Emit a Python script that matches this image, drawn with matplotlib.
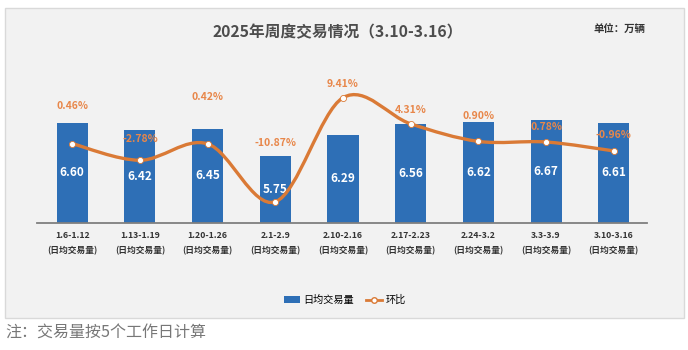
import matplotlib.pyplot as plt
from matplotlib.patches import Rectangle, PathPatch, Patch
from matplotlib.lines import Line2D
from matplotlib.path import Path
import numpy as np

plt.rcParams['font.family'] = ['Noto Sans CJK SC', 'DejaVu Sans']

weeks = ['1.6-1.12', '1.13-1.19', '1.20-1.26', '2.1-2.9', '2.10-2.16',
         '2.17-2.23', '2.24-3.2', '3.3-3.9', '3.10-3.16']
daily_volume = [6.60, 6.42, 6.45, 5.75, 6.29, 6.56, 6.62, 6.67, 6.61]
mom_change = [0.46, -2.78, 0.42, -10.87, 9.41, 4.31, 0.90, 0.78, -0.96]

BAR_COLOR = '#2E6FB6'
LINE_COLOR = '#DA7A36'
LABEL_COLOR = '#E8874A'
# pixel gap between each line point and its label (manually placed in the original)
label_gap = [38, 21, 47, 59, 14, 14, 25, 15, 16]


def smooth_path(xs, ys):
    # Excel-like smoothed line: Catmull-Rom turned into cubic Bezier segments
    pts = np.column_stack([xs, ys])
    n = len(pts)
    verts = [pts[0]]
    codes = [Path.MOVETO]
    for i in range(n - 1):
        p0 = pts[max(i - 1, 0)]
        p1 = pts[i]
        p2 = pts[i + 1]
        p3 = pts[min(i + 2, n - 1)]
        c1 = p1 + (p2 - p0) / 6
        c2 = p2 - (p3 - p1) / 6
        verts += [c1, c2, p2]
        codes += [Path.CURVE4] * 3
    return Path(verts, codes)


fig = plt.figure(figsize=(6.88, 3.5), dpi=100)
fig.patches.append(Rectangle((5 / 688, 1 - 318 / 350), 679 / 688, 310 / 350,
                             transform=fig.transFigure, facecolor='#F2F2F2',
                             edgecolor='#D9D9D9', linewidth=1, zorder=-5))

ax = fig.add_axes([37 / 688, 1 - 223 / 350, 610 / 688, 154 / 350])
ax.set_facecolor('none')
x = np.arange(len(weeks))
bars = ax.bar(x, daily_volume, width=0.46, color=BAR_COLOR, zorder=2)
ax.set_ylim(4, 8)
ax.set_xlim(-0.52, 8.49)
for xi, v in zip(x, daily_volume):
    ax.text(xi, (4 + v) / 2, f'{v:.2f}', ha='center', va='center',
            color='white', fontsize=8.5, fontweight='bold', zorder=3)

for s in ['top', 'right', 'left']:
    ax.spines[s].set_visible(False)
ax.spines['bottom'].set_color('#7F7F7F')
ax.spines['bottom'].set_linewidth(1.3)
ax.set_yticks([])
ax.set_xticks(x)
ax.set_xticklabels([f'{w}\n(日均交易量)' for w in weeks], fontsize=6.3,
                   fontweight='bold', color='#333333', linespacing=1.9)
ax.tick_params(axis='x', length=0, pad=6)

ax2 = ax.twinx()
ax2.set_ylim(-15, 15)
ax2.axis('off')
ax2.add_patch(PathPatch(smooth_path(x, mom_change), facecolor='none',
                        edgecolor=LINE_COLOR, linewidth=2.4, zorder=3))
ax2.plot(x, mom_change, 'o', markersize=4.4, markerfacecolor='white',
         markeredgecolor=LINE_COLOR, markeredgewidth=0.6, zorder=4)
for xi, v, gap in zip(x, mom_change, label_gap):
    ax2.annotate(f'{v:.2f}%', (xi, v), xytext=(0, gap), textcoords='offset pixels',
                 ha='center', va='center', color=LABEL_COLOR, fontsize=7.5,
                 fontweight='bold')

fig.text(338 / 688, 1 - 32 / 350, '2025年周度交易情况（3.10-3.16）', ha='center',
         va='center', fontsize=11.3, fontweight='bold', color='#4D4D4D')
fig.text(619 / 688, 1 - 30 / 350, '单位：万辆', ha='center', va='center',
         fontsize=7.5, fontweight='bold', color='#333333')

handles = [Patch(facecolor=BAR_COLOR),
           Line2D([], [], color=LINE_COLOR, linewidth=2, marker='o', markersize=4,
                  markerfacecolor='white', markeredgecolor=LINE_COLOR)]
fig.legend(handles, ['日均交易量', '环比'], loc='center', ncol=2,
           bbox_to_anchor=(345 / 688, 1 - 300 / 350), frameon=False, fontsize=7.3,
           handlelength=1.6, handleheight=0.6, columnspacing=1.2, handletextpad=0.3)

fig.text(5 / 688, 1 - 333 / 350, '注：交易量按5个工作日计算', ha='left', va='center',
         fontsize=11.5, color='#777777')

fig.savefig('out.png', dpi=100)
